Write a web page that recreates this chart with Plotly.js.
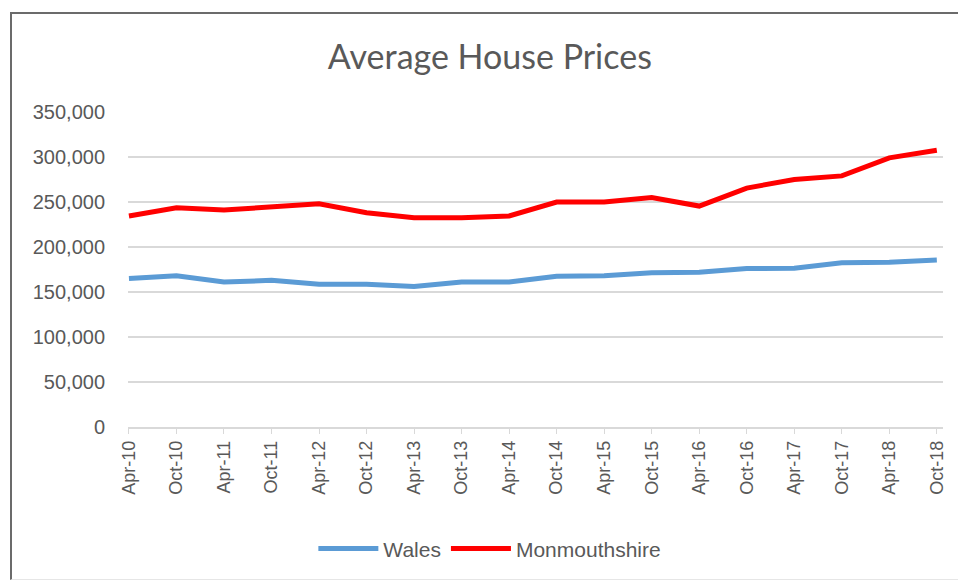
<!DOCTYPE html>
<html>
<head>
<meta charset="utf-8">
<script src="https://cdn.plot.ly/plotly-3.0.1.min.js"></script>
<style>
  html, body { margin: 0; padding: 0; background: #fff; }
  #wrap { position: relative; width: 958px; height: 581px; overflow: hidden; }
  #chart { position: absolute; left: 0; top: 0; width: 958px; height: 581px; }
  #frame { position: absolute; left: 10px; top: 12px; width: 960px; height: 565px;
           border-left: 2px solid #6b6b6b; border-top: 2px solid #6b6b6b;
           border-bottom: 1px solid #e6e6e6; pointer-events: none; }
</style>
</head>
<body>
<div id="wrap">
  <div id="chart"></div>
  <div id="frame"></div>
</div>
<script>
const categories = ["Apr-10","Oct-10","Apr-11","Oct-11","Apr-12","Oct-12","Apr-13","Oct-13","Apr-14",
                    "Oct-14","Apr-15","Oct-15","Apr-16","Oct-16","Apr-17","Oct-17","Apr-18","Oct-18"];
const wales = [165000,168000,161000,163000,158500,158500,156000,161000,161000,
               167500,168000,171500,172000,176000,176500,182500,183000,185500];
const monmouthshire = [234500,243500,241000,244000,248000,238000,232500,232500,234500,
                       250000,250000,255000,245500,265500,275000,279000,299000,307500];
const yTicks = [0,50000,100000,150000,200000,250000,300000,350000];
const yTickLabels = ["0","50,000","100,000","150,000","200,000","250,000","300,000","350,000"];

const textColor = "#595959";

const traces = [
  { x: categories, y: wales, name: "Wales", type: "scatter", mode: "lines",
    line: { color: "#5B9BD5", width: 5 } },
  { x: categories, y: monmouthshire, name: "Monmouthshire", type: "scatter", mode: "lines",
    line: { color: "#FF0000", width: 5 } }
];

const layout = {
  width: 958, height: 581,
  margin: { l: 128, r: 15, t: 112, b: 154 },
  paper_bgcolor: "#ffffff", plot_bgcolor: "#ffffff",
  font: { family: "Liberation Sans, Arial, sans-serif", color: textColor },
  title: { text: "Average House Prices", x: 0.444, xref: "paper", xanchor: "center",
           y: 0.902, yref: "container", yanchor: "middle",
           font: { family: "Lato, Open Sans, sans-serif", size: 34, color: textColor } },
  xaxis: {
    type: "category", range: [-0.02, 17.13],
    tickangle: -90, tickfont: { size: 18, color: textColor },
    showline: true, linecolor: "#D9D9D9", linewidth: 1.5,
    ticks: "outside", ticklen: 5, tickcolor: "#D9D9D9",
    showgrid: false, zeroline: false, fixedrange: true
  },
  yaxis: {
    range: [0, 350000], tickmode: "array", tickvals: yTicks, ticktext: yTickLabels,
    tickfont: { size: 20, color: textColor },
    showgrid: true, gridcolor: "#D9D9D9", gridwidth: 1.5,
    showline: false, zeroline: false, ticks: "", ticklabelstandoff: 22, fixedrange: true
  },
  showlegend: true,
  legend: { orientation: "h", x: 0.444, xanchor: "center", y: -0.387, yanchor: "middle",
            font: { size: 21, color: textColor }, itemwidth: 60, traceorder: "normal" }
};

Plotly.newPlot("chart", traces, layout, { displayModeBar: false, staticPlot: true });
</script>
</body>
</html>
